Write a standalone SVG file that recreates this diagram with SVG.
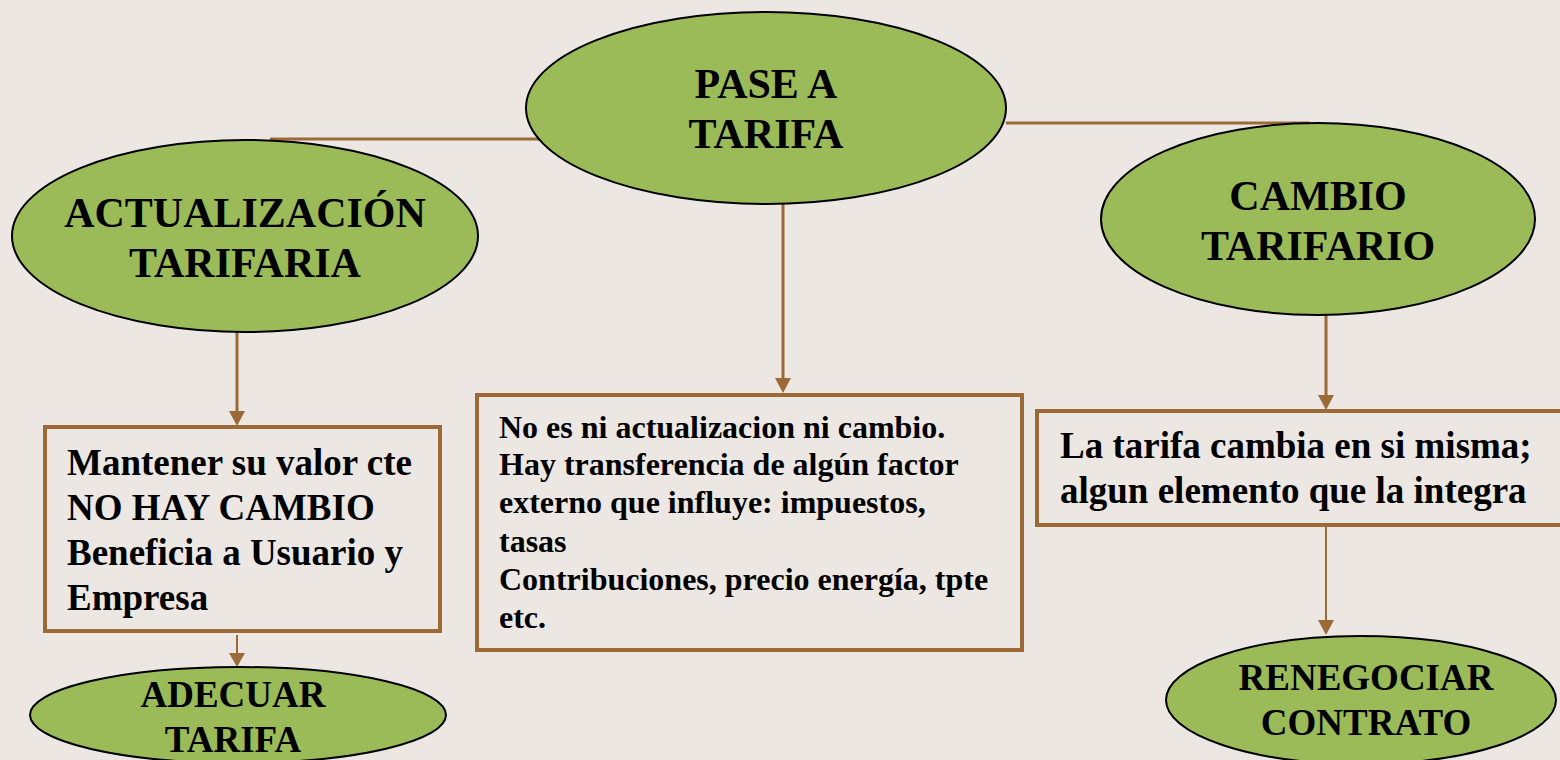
<svg xmlns="http://www.w3.org/2000/svg" width="1560" height="760" viewBox="0 0 1560 760">
<defs>
<style>
.ell{fill:#9BBB59;stroke:#000;stroke-width:2}
.box{fill:none;stroke:#9C6A36;stroke-width:4}
.con{stroke:#9C6A36;stroke-width:3;fill:none}
.thin{stroke:#9C6A36;stroke-width:2;fill:none}
.head{fill:#9C6A36}
</style>
</defs>
<rect width="1560" height="760" fill="#ECE7E3"/>
<g id="connectors">
<line class="con" x1="270" y1="139" x2="541" y2="139"/>
<line class="con" x1="1006" y1="123" x2="1310" y2="123"/>
<line class="con" x1="783" y1="203" x2="783" y2="380"/>
<polygon class="head" points="775,378 791,378 783,393"/>
<line class="con" x1="237" y1="332" x2="237" y2="413"/>
<polygon class="head" points="229,411 245,411 237,426"/>
<line class="thin" x1="237" y1="635" x2="237" y2="655"/>
<polygon class="head" points="229,653 245,653 237,667"/>
<line class="con" x1="1326" y1="315" x2="1326" y2="397"/>
<polygon class="head" points="1318,395 1334,395 1326,410"/>
<line class="thin" x1="1326" y1="525" x2="1326" y2="622"/>
<polygon class="head" points="1318,620 1334,620 1326,635"/>
</g>
<g id="pase">
<ellipse class="ell" cx="766" cy="108" rx="240" ry="96"/>
<text x="766" y="98" style="font-family:'Liberation Serif',serif;font-weight:bold;font-size:42px;text-anchor:middle">PASE A</text>
<text x="766" y="148" style="font-family:'Liberation Serif',serif;font-weight:bold;font-size:42px;text-anchor:middle">TARIFA</text>
</g>
<g id="actualizacion">
<ellipse class="ell" cx="245" cy="236" rx="233" ry="96"/>
<text x="245" y="227" style="font-family:'Liberation Serif',serif;font-weight:bold;font-size:42px;text-anchor:middle">ACTUALIZACIÓN</text>
<text x="245" y="277" style="font-family:'Liberation Serif',serif;font-weight:bold;font-size:42px;text-anchor:middle">TARIFARIA</text>
</g>
<g id="cambio">
<ellipse class="ell" cx="1318" cy="219" rx="217" ry="96"/>
<text x="1318" y="210" style="font-family:'Liberation Serif',serif;font-weight:bold;font-size:42px;text-anchor:middle">CAMBIO</text>
<text x="1318" y="260" style="font-family:'Liberation Serif',serif;font-weight:bold;font-size:42px;text-anchor:middle">TARIFARIO</text>
</g>
<g id="box1">
<rect class="box" x="45" y="427" width="395" height="204"/>
<text x="67" y="475" style="font-family:'Liberation Serif',serif;font-weight:bold;font-size:37px">Mantener su valor cte</text>
<text x="67" y="520" style="font-family:'Liberation Serif',serif;font-weight:bold;font-size:37px">NO HAY CAMBIO</text>
<text x="67" y="565" style="font-family:'Liberation Serif',serif;font-weight:bold;font-size:37px">Beneficia a Usuario y</text>
<text x="67" y="610" style="font-family:'Liberation Serif',serif;font-weight:bold;font-size:37px">Empresa</text>
</g>
<g id="box2">
<rect class="box" x="477" y="395" width="545" height="255"/>
<text x="499" y="438" style="font-family:'Liberation Serif',serif;font-weight:bold;font-size:32px">No es ni actualizacion ni cambio.</text>
<text x="499" y="475" style="font-family:'Liberation Serif',serif;font-weight:bold;font-size:32px">Hay transferencia de algún factor</text>
<text x="499" y="513" style="font-family:'Liberation Serif',serif;font-weight:bold;font-size:32px">externo que influye: impuestos,</text>
<text x="499" y="552" style="font-family:'Liberation Serif',serif;font-weight:bold;font-size:32px">tasas</text>
<text x="499" y="590" style="font-family:'Liberation Serif',serif;font-weight:bold;font-size:32px">Contribuciones, precio energía, tpte</text>
<text x="499" y="628" style="font-family:'Liberation Serif',serif;font-weight:bold;font-size:32px">etc.</text>
</g>
<g id="box3">
<rect class="box" x="1037" y="411" width="530" height="114"/>
<text x="1060" y="458" style="font-family:'Liberation Serif',serif;font-weight:bold;font-size:37px">La tarifa cambia en si misma;</text>
<text x="1060" y="503" style="font-family:'Liberation Serif',serif;font-weight:bold;font-size:37px">algun elemento que la integra</text>
</g>
<g id="adecuar">
<ellipse class="ell" cx="238" cy="715" rx="208" ry="48"/>
<text x="233" y="707" style="font-family:'Liberation Serif',serif;font-weight:bold;font-size:37px;text-anchor:middle">ADECUAR</text>
<text x="233" y="752" style="font-family:'Liberation Serif',serif;font-weight:bold;font-size:37px;text-anchor:middle">TARIFA</text>
</g>
<g id="renegociar">
<ellipse class="ell" cx="1361" cy="700" rx="195" ry="64"/>
<text x="1366" y="690" style="font-family:'Liberation Serif',serif;font-weight:bold;font-size:37px;text-anchor:middle">RENEGOCIAR</text>
<text x="1366" y="735" style="font-family:'Liberation Serif',serif;font-weight:bold;font-size:37px;text-anchor:middle">CONTRATO</text>
</g>
</svg>
